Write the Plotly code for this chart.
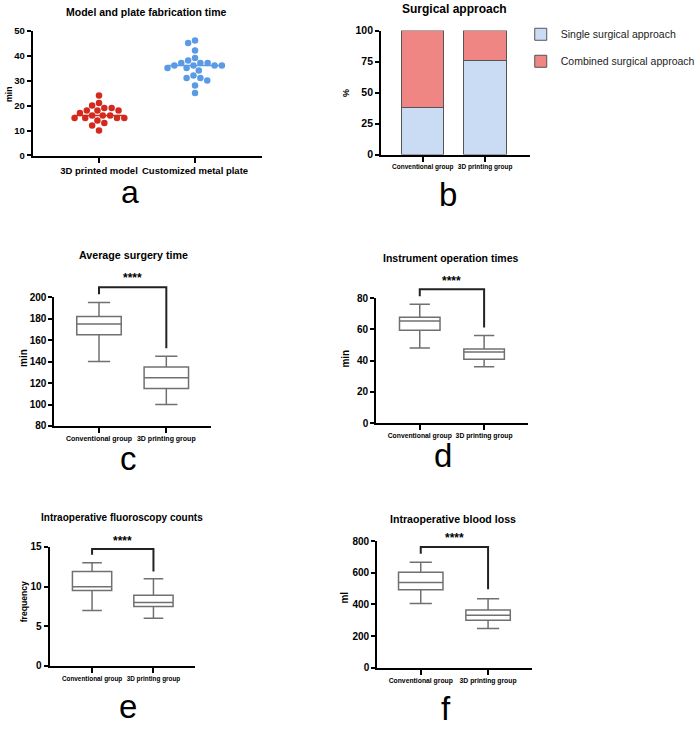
import numpy as np
import plotly.graph_objects as go

# ---------------- data ----------------
fab_categories = ["3D printed model", "Customized metal plate"]
model_time = [24, 21, 20, 19, 19, 18, 18, 18, 17, 16, 16, 16, 15, 15, 15, 15, 14, 13, 12, 10]
plate_time = [46, 45, 42, 39, 38, 37, 37, 37, 36, 36, 36, 36, 35, 35, 34, 32, 31, 31, 30, 28, 25]

groups = ["Conventional group", "3D printing group"]
single_pct = [38, 76]
combined_pct = [62, 24]

# box stats: [lower whisker, q1, median, q3, upper whisker]
surgery_conv = [140, 165, 175, 182, 195]
surgery_3d = [100, 115, 125, 135, 145]
instr_conv = [48, 59.5, 65.3, 67.8, 76]
instr_3d = [36, 40.8, 45.5, 47.4, 56]
fluoro_conv = [7, 9.5, 10, 11.9, 13]
fluoro_3d = [6, 7.5, 8, 8.9, 11]
blood_conv = [406, 493, 539, 603, 667]
blood_3d = [249, 300, 332, 365, 437]

# ---------------- geometry (pixels) ----------------
W, H = 700, 730
FONT = "Liberation Sans"

panels = {
    "a": dict(ax="", x0=33, x1=265, top=25, bot=152, c1=100, c2=197, yr=[0, 50], tv=[0, 10, 20, 30, 40, 50], cf=9.5, yf=9.5),
    "b": dict(ax="2", x0=385, x1=535, top=25, bot=151, c1=427, c2=490, yr=[0, 100], tv=[0, 25, 50, 75, 100], cf=6.5, yf=10.5),
    "c": dict(ax="3", x0=55, x1=213, top=296, bot=427, c1=100, c2=168, yr=[80, 200], tv=[80, 100, 120, 140, 160, 180, 200], cf=7, yf=10),
    "d": dict(ax="4", x0=380, x1=533, top=297, bot=424, c1=424, c2=489, yr=[0, 80], tv=[0, 20, 40, 60, 80], cf=6.8, yf=10),
    "e": dict(ax="5", x0=50, x1=197, top=550, bot=671, c1=93, c2=155, yr=[0, 15], tv=[0, 5, 10, 15], cf=6.4, yf=10),
    "f": dict(ax="6", x0=381, x1=537, top=544, bot=673, c1=425, c2=493, yr=[0, 800], tv=[0, 200, 400, 600, 800], cf=6.8, yf=10),
}

def px2paper_x(px):
    return px / W

def px2paper_y(py):
    return 1 - py / H

fig = go.Figure()

# ---------- panel a: scatter dot plot (swarm) ----------
def swarm_offsets(values, px_per_unit, diam):
    vals = np.asarray(values, dtype=float)
    order = np.argsort(-vals, kind="stable")
    placed = []
    offs = np.zeros(len(vals))
    for i in order:
        y = vals[i] * px_per_unit
        forbidden = []
        for (px, pyy) in placed:
            dy = abs(pyy - y)
            if dy < diam:
                dx = np.sqrt(diam ** 2 - dy ** 2)
                forbidden.append((px - dx, px + dx))
        cands = [0.0] + [e for iv in forbidden for e in iv]
        cands.sort(key=lambda c: (abs(c), c))
        chosen = 0.0
        for c in cands:
            if all(not (lo + 1e-6 < c < hi - 1e-6) for lo, hi in forbidden):
                chosen = c
                break
        placed.append((chosen, y))
        offs[i] = chosen
    return offs

pa = panels["a"]
ppu_a = (pa["bot"] - pa["top"]) / (pa["yr"][1] - pa["yr"][0])
spacing_a = pa["c2"] - pa["c1"]
for k, (vals, col) in enumerate([(model_time, "#d42a1e"), (plate_time, "#5b9be6")]):
    off = swarm_offsets(vals, ppu_a, 7.4) / spacing_a
    med = float(np.median(vals))
    half = max(abs(off)) if len(off) else 0.3
    fig.add_trace(go.Scatter(
        x=[k - half, k + half], y=[med, med], mode="lines",
        line=dict(color=col, width=1.5), showlegend=False,
        xaxis="x", yaxis="y", hoverinfo="skip"))
    fig.add_trace(go.Scatter(
        x=k + off, y=vals, mode="markers",
        marker=dict(color=col, size=6.5, line=dict(width=0)),
        showlegend=False, xaxis="x", yaxis="y", hoverinfo="skip"))

# ---------- panel b: stacked bars ----------
fig.add_trace(go.Bar(x=[0, 1], y=single_pct, name="Single surgical approach",
                     marker=dict(color="#c9dcf4", line=dict(color="#555555", width=1)),
                     width=0.68, xaxis="x2", yaxis="y2", legendgroup="g1"))
fig.add_trace(go.Bar(x=[0, 1], y=combined_pct, name="Combined surgical approach",
                     marker=dict(color="#ef8683", line=dict(color="#555555", width=1)),
                     width=0.68, xaxis="x2", yaxis="y2", legendgroup="g2"))

# ---------- panels c-f: box plots ----------
box_sets = [("c", surgery_conv, surgery_3d, 0.66),
            ("d", instr_conv, instr_3d, 0.63),
            ("e", fluoro_conv, fluoro_3d, 0.64),
            ("f", blood_conv, blood_3d, 0.66)]
for key, conv, d3, bw in box_sets:
    ax = panels[key]["ax"]
    for k, st in enumerate([conv, d3]):
        fig.add_trace(go.Box(
            x=[k], lowerfence=[st[0]], q1=[st[1]], median=[st[2]], q3=[st[3]], upperfence=[st[4]],
            width=bw, whiskerwidth=0.5, fillcolor="white",
            line=dict(color="#707070", width=1.5), showlegend=False,
            xaxis="x" + ax, yaxis="y" + ax, hoverinfo="skip"))

# ---------- axes ----------
layout = dict(
    width=W, height=H, margin=dict(l=0, r=0, t=0, b=0),
    paper_bgcolor="white", plot_bgcolor="white",
    barmode="stack",
    font=dict(family=FONT, color="black"),
    showlegend=True,
    legend=dict(x=px2paper_x(526), y=px2paper_y(14), xanchor="left", yanchor="top",
                traceorder="grouped", tracegroupgap=8,
                font=dict(family=FONT, size=10.5, color="#222222"),
                bgcolor="rgba(0,0,0,0)"),
)
for key, p in panels.items():
    s = p["c2"] - p["c1"]
    xr = [-(p["c1"] - p["x0"]) / s, 1 + (p["x1"] - p["c2"]) / s]
    ticktext = fab_categories if key == "a" else groups
    layout["xaxis" + p["ax"]] = dict(
        domain=[px2paper_x(p["x0"]), px2paper_x(p["x1"])], range=xr,
        anchor="y" + p["ax"], tickvals=[0, 1], ticktext=ticktext, tickangle=0,
        ticks="outside", ticklen=5, tickwidth=2, tickcolor="black",
        showline=True, linewidth=2, linecolor="black",
        showgrid=False, zeroline=False,
        tickfont=dict(family=FONT, size=p["cf"], weight=700, color="black"))
    layout["yaxis" + p["ax"]] = dict(
        domain=[px2paper_y(p["bot"]), px2paper_y(p["top"])], range=p["yr"],
        anchor="x" + p["ax"], tickvals=p["tv"],
        ticks="outside", ticklen=4, tickwidth=2, tickcolor="black",
        showline=True, linewidth=2, linecolor="black",
        showgrid=False, zeroline=False,
        tickfont=dict(family=FONT, size=p["yf"], weight=700, color="black"))
fig.update_layout(**layout)

# ---------- annotations ----------
ann = []
titles = [("Model and plate fabrication time", 148, 6.5, 10.5),
          ("Surgical approach", 459, 3, 12),
          ("Average surgery time", 135, 253, 10.7),
          ("Instrument operation times", 456, 256, 10.5),
          ("Intraoperative fluoroscopy counts", 123, 520.5, 10),
          ("Intraoperative blood loss", 458, 522, 10.6)]
for t, x, y, fs in titles:
    ann.append(dict(text=t, x=px2paper_x(x), y=px2paper_y(y), xref="paper", yref="paper",
                    showarrow=False, xanchor="center", yanchor="middle",
                    font=dict(family=FONT, size=fs, weight=700, color="black")))

ytitles = [("min", 8.5, 89, 8.8), ("%", 349, 89, 9), ("min", 23, 358, 10), ("min", 349, 359, 10),
           ("frequency", 24.5, 606, 8.6), ("ml", 348, 602, 10)]
for t, x, y, fs in ytitles:
    ann.append(dict(text=t, x=px2paper_x(x), y=px2paper_y(y), xref="paper", yref="paper",
                    showarrow=False, textangle=-90, xanchor="center", yanchor="middle",
                    font=dict(family=FONT, size=fs, weight=700, color="black")))

letters = [("a", 131, 189, 32), ("b", 453, 192, 33), ("c", 129.5, 460, 33), ("d", 447, 457, 33),
           ("e", 129.5, 712, 33), ("f", 450, 714, 33)]
for t, x, y, fs in letters:
    ann.append(dict(text=t, x=px2paper_x(x), y=px2paper_y(y), xref="paper", yref="paper",
                    showarrow=False, xanchor="center", yanchor="middle",
                    font=dict(family=FONT, size=fs, color="black")))

# significance brackets (pixel heights: top, left end, right end, stars)
brackets = {"c": (286, 293, 348, 277), "d": (288, 295, 327, 280),
            "e": (552, 558, 575, 544), "f": (550, 557, 593, 541)}
shapes = []
for key, (top, lft, rgt, star) in brackets.items():
    ax = panels[key]["ax"]
    path = "M 0,{a} L 0,{t} L 1,{t} L 1,{b}".format(
        a=px2paper_y(lft), t=px2paper_y(top), b=px2paper_y(rgt))
    shapes.append(dict(type="path", path=path, xref="x" + ax, yref="paper",
                       line=dict(color="#222222", width=2)))
    ann.append(dict(text="****", x=0.5, y=px2paper_y(star), xref="x" + ax, yref="paper",
                    showarrow=False, xanchor="center", yanchor="middle",
                    font=dict(family=FONT, size=12, weight=700, color="black")))

fig.update_layout(annotations=ann, shapes=shapes)
fig.write_html("out.html")
